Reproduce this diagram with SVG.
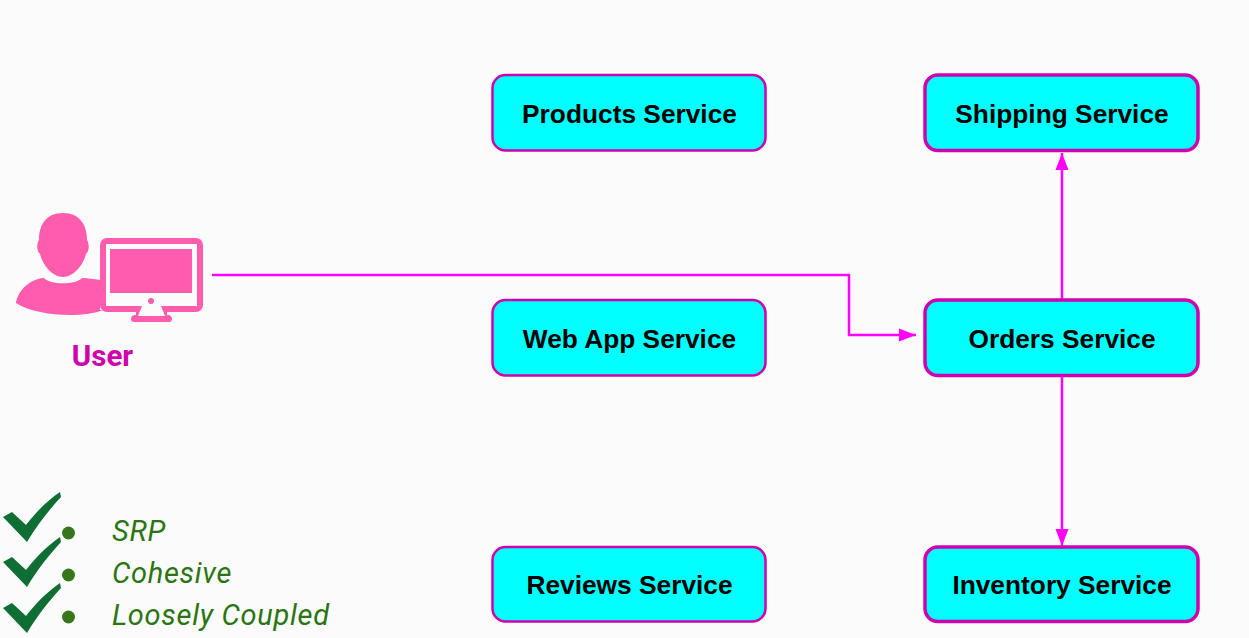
<svg xmlns="http://www.w3.org/2000/svg" width="1249" height="638" viewBox="0 0 1249 638">
<style>
.n{fill:#00ffff;stroke:#cf00ae;stroke-width:2.500}
.t{stroke-width:3.500}
.l{font-family:"Liberation Sans",Arial,sans-serif;font-weight:700;font-size:26.300px;text-anchor:middle;fill:#000}
.c{fill:none;stroke:#ff00ff;stroke-width:2.500}
.i{font-family:Roboto,sans-serif;font-style:italic;font-weight:400;font-size:29px;letter-spacing:0.700px;fill:#2a7512}
.k{fill:#0f6e33}
.d{fill:#38761d}
.p{fill:#ff5cad}
</style>
<defs>
<marker id="a" markerUnits="userSpaceOnUse" markerWidth="17" markerHeight="14" refX="17" refY="7" orient="auto"><path d="M0 0.500L17 7L0 13.500z" fill="#ff00ff"/></marker>
<path id="chk" d="M3 517L12 512L26 525C36 512 47 501 60 492L61 497C49 510 37 525 27 542z"/>
</defs>
<rect width="1249" height="638" fill="#fbfbfb"/>
<g id="connectors">
<path class="c" d="M212 275H849V335H916" marker-end="url(#a)"/>
<path class="c" d="M1062 299V153" marker-end="url(#a)"/>
<path class="c" d="M1062 376V546" marker-end="url(#a)"/>
</g>
<g id="products"><rect class="n" x="492.500" y="75" width="273" height="75.500" rx="13"/><text class="l" x="629.500" y="122.500">Products Service</text></g>
<g id="webapp"><rect class="n" x="492.500" y="300" width="273" height="75.500" rx="13"/><text class="l" x="629.500" y="347.500">Web App Service</text></g>
<g id="reviews"><rect class="n" x="492.500" y="547" width="273" height="74.500" rx="13"/><text class="l" x="629.500" y="594">Reviews Service</text></g>
<g id="shipping"><rect class="n t" x="925" y="75" width="273" height="75.500" rx="13"/><text class="l" x="1062" y="122.500">Shipping Service</text></g>
<g id="orders"><rect class="n t" x="925" y="300" width="273" height="75.500" rx="13"/><text class="l" x="1062" y="347.500">Orders Service</text></g>
<g id="inventory"><rect class="n t" x="925" y="547" width="273" height="74.500" rx="13"/><text class="l" x="1062" y="594">Inventory Service</text></g>
<g id="user">
<path class="p" d="M63 213C80 213 87 225 87 240C89 243 90 250 86 254C83 266 73 277 63 277C53 277 43 266 40 254C36 250 37 243 39 240C39 225 46 213 63 213z"/>
<path class="p" d="M44 278C50 285 76 285 82 278C88 278 94 279 100 280V310L103 310C84 318 38 317 16 303C18 290 30 279 44 278z"/>
<rect x="100" y="238" width="103" height="74" rx="7" fill="#ff5cad"/>
<rect x="106" y="244" width="91" height="62" fill="#fbfbfb"/>
<rect class="p" x="110" y="249" width="82" height="44"/>
<circle class="p" cx="151" cy="301" r="3"/>
<path class="p" d="M136 312H167V315H169Q172 316 172 319Q172 322 169 322H134Q131 322 131 319Q131 316 134 315H136z"/>
<path fill="#fbfbfb" d="M138 316L142 306H161L165 316z"/>
<text x="102.500" y="365.500" font-family="Roboto,sans-serif" font-weight="700" font-size="29.500px" text-anchor="middle" fill="#d000ac">User</text>
</g>
<g id="notes">
<use href="#chk" class="k"/><use href="#chk" class="k" y="45"/><use href="#chk" class="k" y="91"/>
<circle class="d" cx="68.500" cy="533" r="6.500"/><circle class="d" cx="68.500" cy="575" r="6.500"/><circle class="d" cx="68.500" cy="617" r="6.500"/>
<text class="i" x="112" y="541">SRP</text>
<text class="i" x="112" y="583">Cohesive</text>
<text class="i" x="112" y="625">Loosely Coupled</text>
</g>
</svg>
